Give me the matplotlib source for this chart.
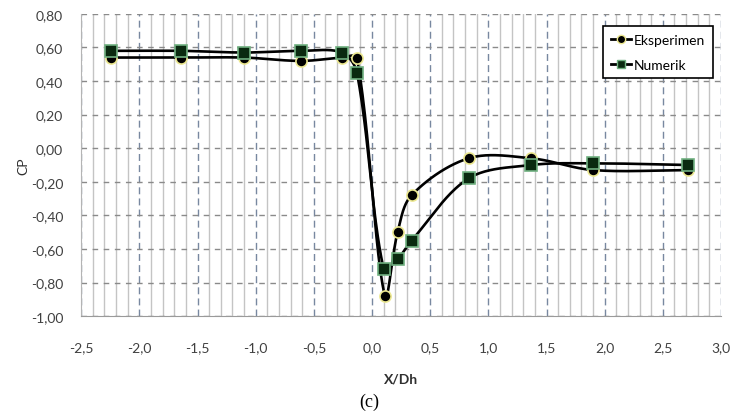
import numpy as np
import matplotlib
matplotlib.use("Agg")
import matplotlib.pyplot as plt
from matplotlib.ticker import MultipleLocator, FixedLocator, FuncFormatter
from matplotlib.lines import Line2D

# ---- data ----
x_eks = [-2.24, -1.64, -1.10, -0.61, -0.26, -0.13, 0.11, 0.22, 0.34, 0.83, 1.37, 1.90, 2.72]
cp_eks = [0.54, 0.54, 0.54, 0.52, 0.54, 0.54, -0.88, -0.50, -0.28, -0.06, -0.06, -0.13, -0.13]
x_num = [-2.24, -1.64, -1.10, -0.61, -0.26, -0.13, 0.10, 0.22, 0.34, 0.83, 1.37, 1.90, 2.72]
cp_num = [0.58, 0.58, 0.57, 0.58, 0.57, 0.45, -0.72, -0.66, -0.55, -0.18, -0.10, -0.09, -0.10]
series_names = ["Eksperimen", "Numerik"]
xticks = [-2.5, -2.0, -1.5, -1.0, -0.5, 0.0, 0.5, 1.0, 1.5, 2.0, 2.5, 3.0]
yticks = [-1.0, -0.8, -0.6, -0.4, -0.2, 0.0, 0.2, 0.4, 0.6, 0.8]

FONT = ["Lato", "DejaVu Sans"]

fig = plt.figure(figsize=(7.38, 4.14), dpi=100)
ax = fig.add_axes([0.110, 0.234, 0.867, 0.730])
ax.set_xlim(-2.5, 3.0)
ax.set_ylim(-1.0, 0.8)


def smooth(xs, ys, n=40):
    """Smoothed line through the points (cubic Bezier segments, computed in screen space)."""
    P = ax.transData.transform(np.column_stack([xs, ys]))
    m = len(P)
    t = np.linspace(0, 1, n)[:, None]
    out = []
    tang = []
    for i in range(m):
        if i == 0 or i == m - 1:
            tang.append(np.zeros(2))
            continue
        d0 = np.linalg.norm(P[i] - P[i - 1])
        d1 = np.linalg.norm(P[i + 1] - P[i])
        tang.append((P[i + 1] - P[i - 1]) / (d0 + d1 + 1e-9))
    for i in range(m - 1):
        p1, p2 = P[i], P[i + 1]
        L = np.linalg.norm(p2 - p1)
        c1 = p1 + tang[i] * L / 3.0 if i > 0 else p1 + (p2 - p1) / 3.0
        c2 = p2 - tang[i + 1] * L / 3.0 if i + 1 < m - 1 else p2 - (p2 - p1) / 3.0
        seg = ((1 - t) ** 3) * p1 + 3 * ((1 - t) ** 2) * t * c1 + 3 * (1 - t) * t ** 2 * c2 + t ** 3 * p2
        out.append(seg if i == 0 else seg[1:])
    out = ax.transData.inverted().transform(np.vstack(out))
    return out[:, 0], out[:, 1]


# grid
ax.set_xticks(xticks)
ax.set_yticks(yticks)
minor_x = [v for v in np.round(np.arange(-2.5, 3.001, 0.1), 2) if abs(v * 2 - round(v * 2)) > 1e-6]
ax.xaxis.set_minor_locator(FixedLocator(minor_x))
ax.grid(which="minor", axis="x", color="#c4c4c4", linestyle="-", linewidth=1.0)
ax.grid(which="major", axis="x", color="#7888a0", linestyle=(0, (5, 3)), linewidth=1.0)
ax.grid(which="major", axis="y", color="#8a8a8a", linestyle=(0, (4, 4)), linewidth=1.0)
ax.set_axisbelow(True)

for s in ["top", "right"]:
    ax.spines[s].set_visible(False)
ax.spines["bottom"].set_color("#9a9a9a")
ax.spines["left"].set_color("#b4b4b4")
ax.tick_params(which="both", length=0, colors="#404040")
ax.tick_params(axis="x", pad=18)
ax.tick_params(axis="y", pad=13)
ax.xaxis.set_major_formatter(FuncFormatter(lambda v, p: f"{v:.1f}".replace(".", ",")))
ax.yaxis.set_major_formatter(FuncFormatter(lambda v, p: f"{v:.2f}".replace(".", ",")))
for lab in ax.get_xticklabels() + ax.get_yticklabels():
    lab.set_family(FONT)
    lab.set_fontsize(10)

# lines
sx, sy = smooth(x_eks, cp_eks)
ax.plot(sx, sy, color="black", linewidth=1.9, zorder=3)
sx, sy = smooth(x_num, cp_num)
ax.plot(sx, sy, color="black", linewidth=1.9, zorder=3)

ax.plot(x_eks, cp_eks, linestyle="none", marker="o", markersize=8,
        markerfacecolor="black", markeredgecolor="#ece890", markeredgewidth=1.2, zorder=4)
ax.plot(x_num, cp_num, linestyle="none", marker="s", markersize=8,
        markerfacecolor="#0a2a10", markeredgecolor="#70b080", markeredgewidth=1.2, zorder=5)

handles = [
    Line2D([], [], color="black", linewidth=2, marker="o", markersize=6,
           markerfacecolor="black", markeredgecolor="#ece890"),
    Line2D([], [], color="black", linewidth=2, marker="s", markersize=6,
           markerfacecolor="#0a2a10", markeredgecolor="#70b080"),
]
leg = ax.legend(handles, series_names, loc="upper right", bbox_to_anchor=(0.9875, 0.960),
                prop={"family": FONT, "size": 10}, frameon=True, fancybox=False,
                edgecolor="black", handlelength=1.5, handletextpad=0.2, borderpad=0.55,
                labelspacing=0.95, borderaxespad=0.0)
leg.get_frame().set_linewidth(1.2)
leg.get_frame().set_facecolor("white")
leg.get_frame().set_alpha(1.0)

ax.set_ylabel("CP", fontsize=10, family=FONT, color="#303030", labelpad=1)
ax.set_xlabel("X/Dh", fontsize=10, family=FONT, fontweight="bold", color="#303030", labelpad=14)

fig.text(0.5, 0.028, "(c)", ha="center", va="center", fontsize=13,
         family="Liberation Serif", color="black")

fig.savefig("out.png", dpi=100)
